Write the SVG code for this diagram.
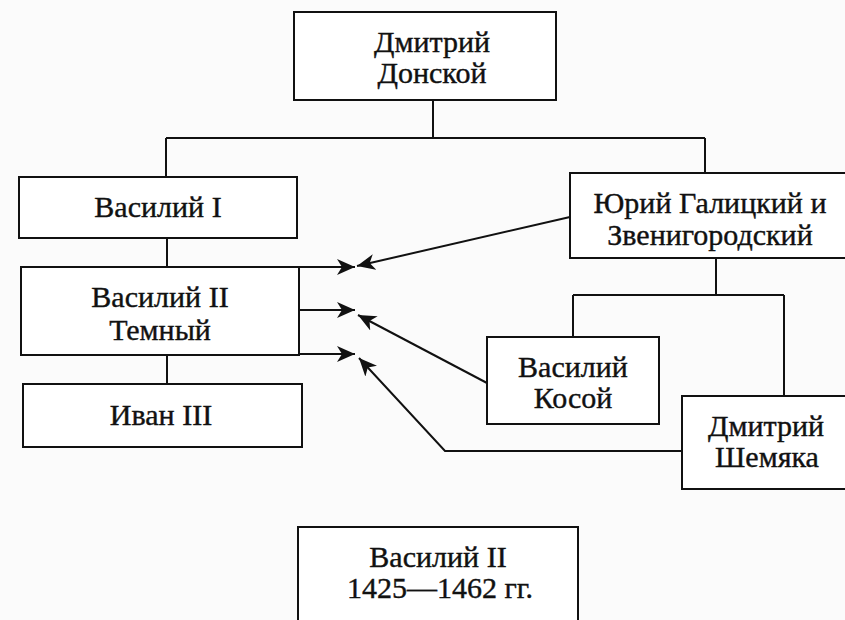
<svg xmlns="http://www.w3.org/2000/svg" width="845" height="620" viewBox="0 0 845 620">
<style>
.box{fill:#fff;stroke:#111;stroke-width:2}
.ln{fill:none;stroke:#111;stroke-width:2}
.t{font-family:"Liberation Serif","DejaVu Serif",serif;font-size:30px;fill:#111;stroke:#111;stroke-width:0.4;text-anchor:middle}
</style>
<defs>
<marker id="ah" markerUnits="userSpaceOnUse" markerWidth="20" markerHeight="16" refX="18" refY="8" orient="auto">
<path d="M0,0 L18,8 L0,16 L5,8 Z" fill="#111"/>
</marker>
</defs>
<rect width="845" height="620" fill="#fbfbfb"/>
<g id="connectors">
<path class="ln" d="M433,100 V138 M166,138 H705 M166,138 V177 M705,138 V173"/>
<path class="ln" d="M167,238 V267 M167,355 V384"/>
<path class="ln" d="M716,258 V295 M573,295 H784 M573,295 V337 M784,295 V396"/>
<line class="ln" x1="299" y1="267" x2="355" y2="267" marker-end="url(#ah)"/>
<line class="ln" x1="299" y1="310" x2="355" y2="310" marker-end="url(#ah)"/>
<line class="ln" x1="299" y1="354" x2="355" y2="354" marker-end="url(#ah)"/>
<line class="ln" x1="570" y1="217" x2="357" y2="266" marker-end="url(#ah)"/>
<line class="ln" x1="487" y1="383" x2="358" y2="315" marker-end="url(#ah)"/>
<polyline class="ln" points="682,451 445,451 359,358" marker-end="url(#ah)"/>
</g>
<g id="donskoy">
<rect class="box" x="294" y="12" width="262" height="88"/>
<text class="t" x="432" y="52">Дмитрий</text>
<text class="t" x="432" y="83">Донской</text>
</g>
<g id="vasily1">
<rect class="box" x="19" y="177" width="278" height="61"/>
<text class="t" x="158" y="217">Василий I</text>
</g>
<g id="vasily2">
<rect class="box" x="21" y="267" width="278" height="88"/>
<text class="t" x="160" y="307">Василий II</text>
<text class="t" x="160" y="340">Темный</text>
</g>
<g id="ivan3">
<rect class="box" x="23" y="384" width="279" height="63"/>
<text class="t" x="161" y="425">Иван III</text>
</g>
<g id="yuri">
<rect class="box" x="570" y="173" width="282" height="85"/>
<text class="t" x="710" y="213">Юрий Галицкий и</text>
<text class="t" x="710" y="245">Звенигородский</text>
</g>
<g id="kosoy">
<rect class="box" x="487" y="337" width="172" height="87"/>
<text class="t" x="573" y="377">Василий</text>
<text class="t" x="573" y="408">Косой</text>
</g>
<g id="shemyaka">
<rect class="box" x="682" y="396" width="170" height="93"/>
<text class="t" x="766" y="436">Дмитрий</text>
<text class="t" x="767" y="467">Шемяка</text>
</g>
<g id="vasily2-years">
<rect class="box" x="298" y="527" width="280" height="100"/>
<text class="t" x="438" y="567">Василий II</text>
<text class="t" x="440" y="598">1425—1462 гг.</text>
</g>
</svg>
